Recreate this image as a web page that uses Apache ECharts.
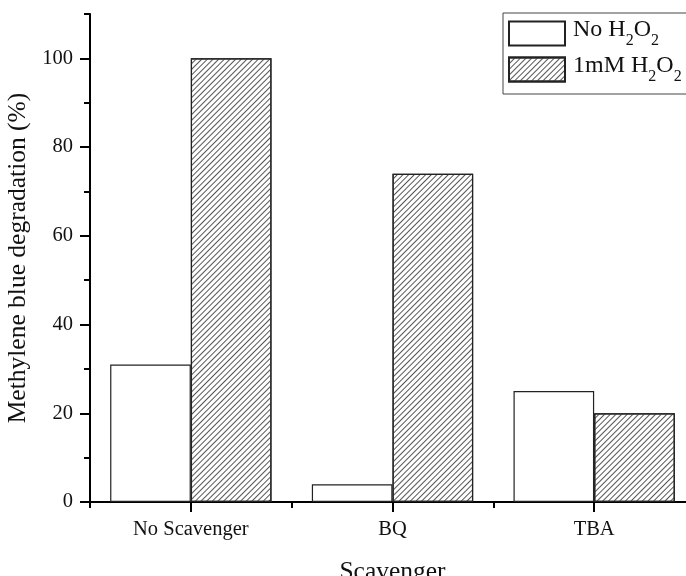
<!DOCTYPE html>
<html>
<head>
<meta charset="utf-8">
<script src="https://cdn.jsdelivr.net/npm/echarts@6/dist/echarts.min.js"></script>
<style>
  html, body { margin: 0; padding: 0; background: #fff; }
  #chart { width: 686px; height: 576px; }
</style>
</head>
<body>
<div id="chart"></div>
<script>
// Scavenger test: methylene blue degradation with and without H2O2
const categories = ['No Scavenger', 'BQ', 'TBA'];
const noH2O2 = [31, 4, 25];
const withH2O2 = [100, 74, 20];
const yMajorTicks = [0, 20, 40, 60, 80, 100];
const yMinorTicks = [10, 30, 50, 70, 90, 110];

const FONT = 'Liberation Serif';
const INK = '#111';

const chart = echarts.init(document.getElementById('chart'), null, { renderer: 'canvas' });

const hatch = {
  symbol: 'rect',
  symbolSize: 1,
  color: '#555',
  dashArrayX: [1, 0],
  dashArrayY: [1, 2.3],
  rotation: -Math.PI / 4
};

function subscriptLabel(name) {
  // "No H2O2" -> H, O with lowered 2s
  return name.replace(/H2O2/, '{a|H}{s|2}{a|O}{s|2}').replace(/^([^{]+)/, '{a|$1}');
}

chart.setOption({
  animation: false,
  backgroundColor: '#fff',
  grid: {
    left: 90,
    top: 14,
    bottom: 74,
    right: -9,
    outerBoundsMode: 'none'
  },
  legend: {
    orient: 'vertical',
    left: 503,
    top: 13,
    padding: [5, 30, 9, 5],
    borderColor: '#444',
    borderWidth: 1,
    itemWidth: 56,
    itemHeight: 24,
    itemGap: 5,
    icon: 'rect',
    formatter: subscriptLabel,
    textStyle: {
      color: INK,
      fontFamily: FONT,
      fontSize: 24,
      padding: [0, 0, 0, 3],
      rich: {
        a: { fontFamily: FONT, fontSize: 24, color: INK, verticalAlign: 'bottom', padding: [0, 0, 7, 0] },
        s: { fontFamily: FONT, fontSize: 16, color: INK, verticalAlign: 'bottom' }
      }
    },
    data: ['No H2O2', '1mM H2O2']
  },
  xAxis: [
    {
      type: 'category',
      data: categories,
      position: 'bottom',
      boundaryGap: true,
      name: 'Scavenger',
      nameLocation: 'middle',
      nameGap: 57,
      nameTextStyle: { fontFamily: FONT, fontSize: 25.5, color: INK },
      axisLine: { show: true, lineStyle: { color: '#000', width: 2 } },
      axisTick: { show: true, alignWithLabel: true, length: 10, lineStyle: { color: '#000', width: 2 } },
      axisLabel: { fontFamily: FONT, fontSize: 20.5, color: INK, margin: 17 },
      splitLine: { show: false }
    },
    {
      type: 'category',
      data: categories,
      position: 'bottom',
      boundaryGap: true,
      axisLine: { show: false },
      axisTick: { show: true, length: 6, lineStyle: { color: '#000', width: 2 } },
      axisLabel: { show: false },
      splitLine: { show: false }
    }
  ],
  yAxis: [
    {
      type: 'value',
      min: 0,
      max: 110,
      position: 'left',
      name: 'Methylene blue degradation (%)',
      nameLocation: 'middle',
      nameGap: 52,
      nameTextStyle: { fontFamily: FONT, fontSize: 25.5, color: INK },
      axisLine: { show: true, lineStyle: { color: '#000', width: 2 } },
      axisTick: { show: true, customValues: yMajorTicks, length: 10, lineStyle: { color: '#000', width: 2 } },
      axisLabel: { customValues: yMajorTicks, fontFamily: FONT, fontSize: 20.5, color: INK, margin: 17 },
      splitLine: { show: false }
    },
    {
      type: 'value',
      min: 0,
      max: 110,
      position: 'left',
      axisLine: { show: false },
      axisTick: { show: true, customValues: yMinorTicks, length: 6, lineStyle: { color: '#000', width: 2 } },
      axisLabel: { show: false },
      splitLine: { show: false }
    }
  ],
  series: [
    {
      name: 'No H2O2',
      type: 'bar',
      xAxisIndex: 0,
      yAxisIndex: 0,
      data: noH2O2,
      barGap: '0%',
      barCategoryGap: '20%',
      itemStyle: { color: '#fff', borderColor: '#222', borderWidth: 1.2 }
    },
    {
      name: '1mM H2O2',
      type: 'bar',
      xAxisIndex: 0,
      yAxisIndex: 0,
      data: withH2O2,
      barGap: '0%',
      barCategoryGap: '20%',
      itemStyle: { color: '#fff', borderColor: '#222', borderWidth: 1.2, decal: hatch }
    }
  ]
});
</script>
</body>
</html>
